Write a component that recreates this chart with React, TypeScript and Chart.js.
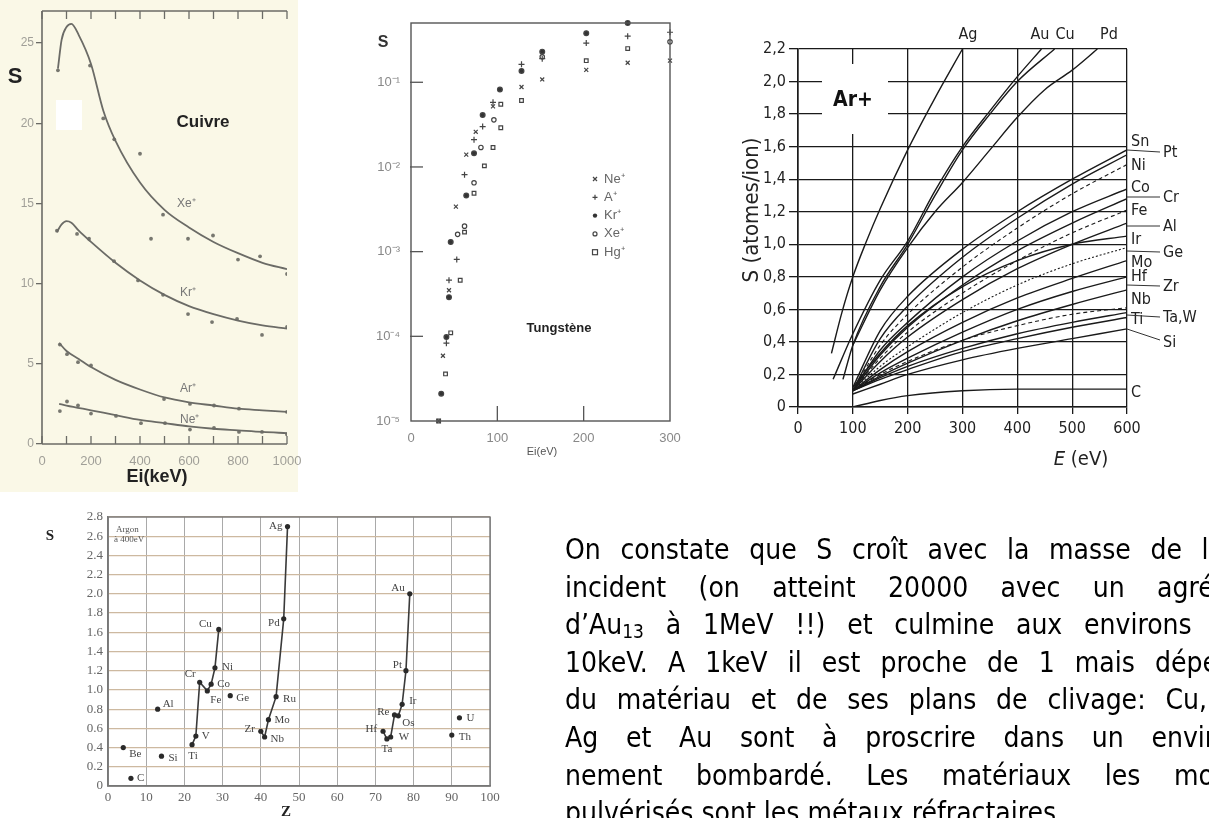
import React, { useEffect, useRef } from "react";
import { Chart, registerables } from "chart.js";

Chart.register(...registerables);

const W = 1209;
const H = 818;

const F_SANS = '"Liberation Sans", Arial, sans-serif';
const F_COND = '"DejaVu Sans Condensed", "DejaVu Sans", sans-serif';
const F_SERIF = '"Liberation Serif", "DejaVu Serif", serif';
const F_NARROW = '"Liberation Sans Narrow", "DejaVu Sans Condensed", sans-serif';

// ================= Chart 1 : Cuivre =================
const cuXTicks = [0, 100, 200, 300, 400, 500, 600, 700, 800, 900, 1000];
const cuXLabels = [0, 200, 400, 600, 800, 1000];
const cuYTicks = [0, 5, 10, 15, 20, 25];
const cuXeFitE = [65, 80, 100, 120, 150, 200, 250, 300, 400, 500, 600, 700, 800, 900, 1000];
const cuXeFitS = [23.4, 25.2, 26.0, 26.2, 25.5, 23.7, 20.8, 18.9, 16.3, 14.6, 13.5, 12.6, 11.9, 11.3, 10.9];
const cuXePtE = [65, 196, 250, 295, 400, 445, 494, 596, 698, 800, 890, 1000];
const cuXePtS = [23.3, 23.6, 20.3, 19.0, 18.1, 12.8, 14.3, 12.8, 13.0, 11.5, 11.7, 10.6];
const cuKrFitE = [60, 80, 100, 120, 150, 200, 300, 400, 500, 600, 700, 800, 900, 1000];
const cuKrFitS = [13.2, 13.7, 13.9, 13.8, 13.3, 12.6, 11.3, 10.2, 9.3, 8.6, 8.1, 7.7, 7.4, 7.2];
const cuKrPtE = [61, 143, 192, 294, 392, 494, 596, 694, 796, 898, 1000];
const cuKrPtS = [13.3, 13.1, 12.8, 11.4, 10.2, 9.3, 8.1, 7.6, 7.8, 6.8, 7.3];
const cuArFitE = [70, 100, 150, 200, 300, 400, 500, 600, 700, 800, 900, 1000];
const cuArFitS = [6.3, 5.8, 5.3, 4.8, 4.0, 3.4, 2.9, 2.6, 2.4, 2.2, 2.1, 2.0];
const cuArPtE = [73, 102, 147, 200, 498, 604, 702, 804, 1000];
const cuArPtS = [6.2, 5.6, 5.1, 4.9, 2.8, 2.5, 2.4, 2.2, 2.0];
const cuNeFitE = [70, 100, 200, 300, 400, 500, 600, 700, 800, 900, 1000];
const cuNeFitS = [2.5, 2.4, 2.1, 1.8, 1.5, 1.3, 1.1, 0.95, 0.85, 0.75, 0.68];
const cuNePtE = [73, 102, 147, 200, 302, 404, 502, 604, 702, 804, 898, 1000];
const cuNePtS = [2.05, 2.65, 2.4, 1.9, 1.75, 1.3, 1.3, 0.9, 1.0, 0.75, 0.75, 0.6];

// ================= Chart 2 : Tungstène =================
const wXTicks = [0, 100, 200, 300];
const wYTicks = [1e-5, 1e-4, 1e-3, 1e-2, 1e-1];
const wNeE = [32, 37, 44, 52, 64, 75, 95, 128, 152, 203, 251, 300];
const wNeS = [1.0e-5, 5.9e-5, 3.5e-4, 3.4e-3, 0.014, 0.026, 0.052, 0.088, 0.108, 0.14, 0.17, 0.18];
const wArE = [41, 44, 53, 62, 73, 83, 95, 128, 152, 203, 251, 300];
const wArS = [8.3e-5, 4.6e-4, 8.1e-4, 0.0081, 0.021, 0.03, 0.058, 0.163, 0.19, 0.29, 0.35, 0.39];
const wKrE = [35, 41, 44, 46, 64, 73, 83, 103, 128, 152, 203, 251, 300];
const wKrS = [2.1e-5, 9.8e-5, 2.9e-4, 1.3e-3, 0.0046, 0.0145, 0.041, 0.082, 0.136, 0.23, 0.38, 0.5, 0.62];
const wXeE = [54, 62, 73, 81, 96, 152, 300];
const wXeS = [1.6e-3, 0.002, 0.0065, 0.017, 0.036, 0.2, 0.3];
const wHgE = [32, 40, 46, 57, 62, 73, 85, 95, 104, 104, 128, 203, 251];
const wHgS = [1.0e-5, 3.6e-5, 1.1e-4, 4.6e-4, 0.0017, 0.0049, 0.0103, 0.017, 0.029, 0.055, 0.061, 0.18, 0.25];
const wLegend = ["Ne⁺", "A⁺", "Kr⁺", "Xe⁺", "Hg⁺"];

// ================= Chart 3 : Ar+ =================
const arXTicks = [0, 100, 200, 300, 400, 500, 600];
const arYTicks = [0, 0.2, 0.4, 0.6, 0.8, 1.0, 1.2, 1.4, 1.6, 1.8, 2.0, 2.2];
const arAgE = [61, 80, 100, 125, 150, 200, 250, 300];
const arAgS = [0.33, 0.58, 0.8, 1.02, 1.22, 1.58, 1.9, 2.2];
const arAuE = [64, 100, 150, 200, 250, 300, 350, 400, 444];
const arAuS = [0.17, 0.45, 0.78, 1.02, 1.33, 1.6, 1.82, 2.03, 2.2];
const arCuE = [82, 100, 150, 200, 250, 300, 350, 400, 468];
const arCuS = [0.17, 0.38, 0.74, 1.0, 1.3, 1.58, 1.8, 2.0, 2.2];
const arPdE = [100, 150, 200, 250, 300, 350, 400, 450, 500, 546];
const arPdS = [0.38, 0.72, 0.98, 1.2, 1.38, 1.58, 1.78, 1.95, 2.07, 2.2];
const arE = [100, 150, 200, 300, 400, 500, 600];
const arSn = [0.12, 0.47, 0.68, 0.97, 1.2, 1.4, 1.58];
const arPt = [0.1, 0.42, 0.62, 0.92, 1.16, 1.37, 1.55];
const arNi = [0.1, 0.38, 0.57, 0.86, 1.1, 1.31, 1.49];
const arCo = [0.1, 0.35, 0.52, 0.8, 1.02, 1.2, 1.34];
const arCr = [0.1, 0.32, 0.49, 0.75, 0.96, 1.13, 1.28];
const arFe = [0.1, 0.3, 0.46, 0.7, 0.9, 1.07, 1.21];
const arAl = [0.1, 0.28, 0.43, 0.66, 0.85, 1.0, 1.13];
const arIr = [0.12, 0.33, 0.5, 0.74, 0.9, 1.0, 1.05];
const arGe = [0.1, 0.25, 0.37, 0.58, 0.75, 0.88, 0.98];
const arMo = [0.1, 0.23, 0.34, 0.52, 0.67, 0.79, 0.9];
const arHf = [0.1, 0.21, 0.3, 0.46, 0.6, 0.71, 0.8];
const arZr = [0.1, 0.19, 0.27, 0.41, 0.53, 0.63, 0.72];
const arNb = [0.1, 0.2, 0.28, 0.41, 0.5, 0.57, 0.61];
const arTaW = [0.1, 0.18, 0.25, 0.36, 0.45, 0.52, 0.58];
const arTi = [0.1, 0.17, 0.23, 0.34, 0.42, 0.49, 0.55];
const arSi = [0.08, 0.14, 0.2, 0.29, 0.36, 0.42, 0.48];
const arC = [0.0, 0.04, 0.07, 0.1, 0.11, 0.11, 0.11];

// ================= Chart 4 : S vs Z =================
const zXTicks = [0, 10, 20, 30, 40, 50, 60, 70, 80, 90, 100];
const zYTicks = [0, 0.2, 0.4, 0.6, 0.8, 1.0, 1.2, 1.4, 1.6, 1.8, 2.0, 2.2, 2.4, 2.6, 2.8];
const z3dZ = [22, 23, 24, 26, 27, 28, 29];
const z3dS = [0.43, 0.52, 1.08, 0.99, 1.06, 1.23, 1.63];
const z3dN = ["Ti", "V", "Cr", "Fe", "Co", "Ni", "Cu"];
const z4dZ = [40, 41, 42, 44, 46, 47];
const z4dS = [0.57, 0.51, 0.69, 0.93, 1.74, 2.7];
const z4dN = ["Zr", "Nb", "Mo", "Ru", "Pd", "Ag"];
const z5dZ = [72, 73, 74, 75, 76, 77, 78, 79];
const z5dS = [0.57, 0.49, 0.51, 0.74, 0.73, 0.85, 1.2, 2.0];
const z5dN = ["Hf", "Ta", "W", "Re", "Os", "Ir", "Pt", "Au"];
const zIsoZ = [4, 6, 13, 14, 32, 90, 92];
const zIsoS = [0.4, 0.08, 0.8, 0.31, 0.94, 0.53, 0.71];
const zIsoN = ["Be", "C", "Al", "Si", "Ge", "Th", "U"];

// label placement (style): dx, dy, align
const zLabelStyle: Record<string, [number, number, CanvasTextAlign]> = {
  Be: [6, 7, "left"], C: [6, 0, "left"], Al: [5, -5, "left"], Si: [7, 2, "left"], Ge: [6, 2, "left"],
  Th: [7, 2, "left"], U: [7, 0, "left"], Ti: [1, 11, "center"], V: [6, 0, "left"], Cr: [-4, -8, "right"],
  Fe: [3, 9, "left"], Co: [6, 0, "left"], Ni: [7, -1, "left"], Cu: [-7, -5, "right"], Zr: [-6, -2, "right"],
  Nb: [6, 2, "left"], Mo: [6, 0, "left"], Ru: [7, 2, "left"], Pd: [-4, 4, "right"], Ag: [-5, 0, "right"],
  Hf: [-6, -2, "right"], Ta: [0, 10, "center"], W: [8, 0, "left"], Re: [-5, -3, "right"], Os: [4, 7, "left"],
  Ir: [7, -3, "left"], Pt: [-4, -6, "right"], Au: [-5, -6, "right"],
};

// ================= Paragraph =================
const paraLines = [
  "On constate que S croît avec la masse de l’ion",
  "incident (on atteint 20000 avec un agrégat",
  "d’Au|13| à 1MeV !!) et culmine aux environs de",
  "10keV. A 1keV il est proche de 1 mais dépend",
  "du matériau et de ses plans de clivage: Cu,",
  "Ag et Au sont à proscrire dans un environ-",
  "nement bombardé. Les matériaux les moins",
  "pulvérisés sont les métaux réfractaires.",
];
const paraWidths = [690, 690, 680, 685, 642, 690, 685, 690];

// ================= helpers =================
type Area = { l: number; t: number; r: number; b: number };
const pts = (xs: number[], ys: number[]) => xs.map((x, i) => ({ x, y: ys[i] }));
const setTicks = (vals: number[]) => (s: any) => {
  s.ticks = vals.map((v) => ({ value: v }));
};

function txt(ctx: CanvasRenderingContext2D, s: string, x: number, y: number, font: string, color = "#000", align: CanvasTextAlign = "left", base: CanvasTextBaseline = "middle") {
  ctx.save();
  ctx.font = font;
  ctx.fillStyle = color;
  ctx.textAlign = align;
  ctx.textBaseline = base;
  ctx.fillText(s, x, y);
  ctx.restore();
}

function seg(ctx: CanvasRenderingContext2D, x1: number, y1: number, x2: number, y2: number, color: string, width: number) {
  ctx.save();
  ctx.strokeStyle = color;
  ctx.lineWidth = width;
  ctx.beginPath();
  ctx.moveTo(x1, y1);
  ctx.lineTo(x2, y2);
  ctx.stroke();
  ctx.restore();
}

function baseOpts(a: Area) {
  return {
    responsive: false,
    maintainAspectRatio: false,
    animation: false,
    devicePixelRatio: 1,
    events: [],
    layout: { padding: { left: 0, top: a.t, right: W - a.r, bottom: 0 } },
    plugins: { legend: { display: false }, tooltip: { enabled: false }, title: { display: false } },
  };
}

// ================= Chart 1 config =================
const A1: Area = { l: 42, t: 11, r: 287, b: 444 };
function cfgCuivre(): any {
  const grey = "#6b6b66";
  const curve = (xs: number[], ys: number[]) => ({
    data: pts(xs, ys), borderColor: grey, borderWidth: 1.8, pointRadius: 0,
    cubicInterpolationMode: "monotone", fill: false,
  });
  const dots = (xs: number[], ys: number[]) => ({
    data: pts(xs, ys), showLine: false, pointRadius: 1.9,
    pointBackgroundColor: "#77776f", pointBorderWidth: 0,
  });
  return {
    type: "line",
    data: {
      datasets: [
        curve(cuXeFitE, cuXeFitS), dots(cuXePtE, cuXePtS),
        curve(cuKrFitE, cuKrFitS), dots(cuKrPtE, cuKrPtS),
        curve(cuArFitE, cuArFitS), dots(cuArPtE, cuArPtS),
        curve(cuNeFitE, cuNeFitS), dots(cuNePtE, cuNePtS),
      ],
    },
    options: {
      ...baseOpts(A1),
      scales: {
        x: {
          type: "linear", min: 0, max: 1000,
          afterFit: (s: any) => { s.height = H - A1.b; },
          afterBuildTicks: setTicks(cuXLabels),
          ticks: { color: "#a09f98", font: { size: 13, family: F_SANS }, padding: 2, maxRotation: 0, autoSkip: false, callback: (v: number) => String(v) },
          grid: { display: false }, border: { display: false },
        },
        y: {
          type: "linear", min: 0, max: 27,
          afterFit: (s: any) => { s.width = A1.l; },
          afterBuildTicks: setTicks(cuYTicks),
          ticks: { color: "#a09f98", font: { size: 12, family: F_SANS }, padding: 2 },
          grid: { drawOnChartArea: false, drawTicks: true, tickLength: 6, color: grey, lineWidth: 1.3 },
          border: { display: false },
        },
      },
    },
    plugins: [
      {
        id: "cuBg",
        beforeDraw(chart: any) {
          const ctx = chart.ctx;
          ctx.save();
          ctx.fillStyle = "#faf8e7";
          ctx.fillRect(0, 0, 298, 492);
          ctx.fillStyle = "#ffffff";
          ctx.fillRect(56, 100, 26, 30);
          ctx.restore();
        },
        afterDraw(chart: any) {
          const ctx = chart.ctx;
          const ca = chart.chartArea;
          const xs = chart.scales.x;
          seg(ctx, ca.left, ca.top, ca.left, ca.bottom, grey, 1.6);
          seg(ctx, ca.left, ca.bottom, ca.right, ca.bottom, grey, 1.6);
          seg(ctx, ca.left, ca.top, ca.right, ca.top, grey, 1.6);
          for (const v of cuXTicks) {
            const px = xs.getPixelForValue(v);
            seg(ctx, px, ca.bottom, px, ca.bottom - 8, grey, 1.3);
            seg(ctx, px, ca.top, px, ca.top + 8, grey, 1.3);
          }
          txt(ctx, "S", 15, 77, `bold 22px ${F_SANS}`, "#222", "center");
          txt(ctx, "Cuivre", 203, 122, `bold 17px ${F_SANS}`, "#222", "center");
          txt(ctx, "Ei(keV)", 157, 477, `bold 18px ${F_SANS}`, "#222", "center");
          const lf = `12px ${F_SANS}`;
          txt(ctx, "Xe⁺", 177, 204, lf, "#777");
          txt(ctx, "Kr⁺", 180, 293, lf, "#777");
          txt(ctx, "Ar⁺", 180, 389, lf, "#777");
          txt(ctx, "Ne⁺", 180, 420, lf, "#777");
        },
      },
    ],
  };
}

// ================= Chart 2 config =================
const A2: Area = { l: 411, t: 23, r: 670, b: 421 };
function cfgTungstene(): any {
  const g = "#555";
  const mk = (xs: number[], ys: number[], style: string, fillC: string, r: number) => ({
    data: pts(xs, ys), showLine: false, pointStyle: style, pointRadius: r,
    pointBackgroundColor: fillC, pointBorderColor: "#444", pointBorderWidth: 1.2, clip: false,
  });
  const sup: Record<string, string> = { "1": "¹", "2": "²", "3": "³", "4": "⁴", "5": "⁵" };
  return {
    type: "line",
    data: {
      datasets: [
        mk(wNeE, wNeS, "crossRot", "#444", 2.8),
        mk(wArE, wArS, "cross", "#444", 3),
        mk(wKrE, wKrS, "circle", "#333", 2.4),
        mk(wXeE, wXeS, "circle", "#ffffff", 2.2),
        mk(wHgE, wHgS, "rect", "#ffffff", 2.6),
      ],
    },
    options: {
      ...baseOpts(A2),
      scales: {
        x: {
          type: "linear", min: 0, max: 300,
          afterFit: (s: any) => { s.height = H - A2.b; },
          afterBuildTicks: setTicks(wXTicks),
          ticks: { color: "#888", font: { size: 13, family: F_SANS }, padding: 2, maxRotation: 0 },
          grid: { display: false }, border: { display: false },
        },
        y: {
          type: "logarithmic", min: 1e-5, max: 0.5012,
          afterFit: (s: any) => { s.width = A2.l; },
          afterBuildTicks: setTicks(wYTicks),
          ticks: {
            color: "#888", font: { size: 13, family: F_SANS }, padding: 3,
            callback: (v: number) => "10⁻" + sup[String(Math.round(-Math.log10(v)))],
          },
          grid: { display: false }, border: { display: false },
        },
      },
    },
    plugins: [
      {
        id: "wDeco",
        afterDraw(chart: any) {
          const ctx = chart.ctx;
          const ca = chart.chartArea;
          ctx.save();
          ctx.strokeStyle = g;
          ctx.lineWidth = 1.4;
          ctx.strokeRect(ca.left, ca.top, ca.right - ca.left, ca.bottom - ca.top);
          ctx.restore();
          const xs = chart.scales.x;
          const ys = chart.scales.y;
          for (const v of [100, 200]) {
            const px = xs.getPixelForValue(v);
            seg(ctx, px, ca.bottom, px, ca.bottom - 15, g, 1.3);
          }
          for (const v of wYTicks.slice(1)) {
            const py = ys.getPixelForValue(v);
            seg(ctx, ca.left - 1, py, ca.left + 12, py, g, 1.3);
          }
          txt(ctx, "S", 383, 43, `bold 16px ${F_SANS}`, "#333", "center");
          txt(ctx, "Tungstène", 559, 328, `bold 13px ${F_SANS}`, "#222", "center");
          txt(ctx, "Ei(eV)", 542, 452, `11px ${F_SANS}`, "#555", "center");
          const styles = ["crossRot", "cross", "circle", "circleOpen", "rect"];
          wLegend.forEach((lab, i) => {
            const y = 179 + i * 18.3;
            const x = 595;
            ctx.save();
            ctx.strokeStyle = "#444";
            ctx.fillStyle = "#333";
            ctx.lineWidth = 1.2;
            const st = styles[i];
            ctx.beginPath();
            if (st === "crossRot") {
              ctx.moveTo(x - 2, y - 2); ctx.lineTo(x + 2, y + 2); ctx.moveTo(x + 2, y - 2); ctx.lineTo(x - 2, y + 2); ctx.stroke();
            } else if (st === "cross") {
              ctx.moveTo(x - 2.5, y); ctx.lineTo(x + 2.5, y); ctx.moveTo(x, y - 2.5); ctx.lineTo(x, y + 2.5); ctx.stroke();
            } else if (st === "circle") {
              ctx.arc(x, y, 2.2, 0, Math.PI * 2); ctx.fill();
            } else if (st === "circleOpen") {
              ctx.arc(x, y, 2, 0, Math.PI * 2); ctx.stroke();
            } else {
              ctx.strokeRect(x - 2.5, y - 2.5, 5, 5);
            }
            ctx.restore();
            txt(ctx, lab, 604, y, `13px ${F_SANS}`, "#666");
          });
        },
      },
    ],
  };
}

// ================= Chart 3 config =================
const A3: Area = { l: 798, t: 49, r: 1127, b: 407 };
function cfgArgon(): any {
  const k = "#1a1a1a";
  const c = (xs: number[], ys: number[], dash?: number[]) => ({
    data: pts(xs, ys), borderColor: k, borderWidth: dash ? 1.1 : 1.4, pointRadius: 0,
    cubicInterpolationMode: "monotone", fill: false, borderDash: dash || [],
  });
  const dashed = [4, 3];
  const dotted = [2, 2];
  return {
    type: "line",
    data: {
      datasets: [
        c(arAgE, arAgS), c(arAuE, arAuS), c(arCuE, arCuS), c(arPdE, arPdS),
        c(arE, arSn), c(arE, arPt), c(arE, arNi, dashed), c(arE, arCo), c(arE, arCr),
        c(arE, arFe, dashed), c(arE, arAl), c(arE, arIr), c(arE, arGe, dotted), c(arE, arMo),
        c(arE, arHf), c(arE, arZr), c(arE, arNb, dashed), c(arE, arTaW), c(arE, arTi),
        c(arE, arSi), c(arE, arC),
      ],
    },
    options: {
      ...baseOpts(A3),
      scales: {
        x: {
          type: "linear", min: 0, max: 600,
          afterFit: (s: any) => { s.height = H - A3.b; },
          afterBuildTicks: setTicks(arXTicks),
          ticks: { color: "#222", font: { size: 16, family: F_COND }, padding: 5, maxRotation: 0 },
          grid: { color: k, lineWidth: 1.3, tickLength: 7, drawTicks: true },
          border: { display: true, color: k, width: 1.6 },
        },
        y: {
          type: "linear", min: 0, max: 2.2,
          afterFit: (s: any) => { s.width = A3.l; },
          afterBuildTicks: setTicks(arYTicks),
          ticks: {
            color: "#222", font: { size: 16, family: F_COND }, padding: 3,
            callback: (v: number) => (v === 0 ? "0" : v.toFixed(1).replace(".", ",")),
          },
          grid: { color: k, lineWidth: 1.3, tickLength: 9, drawTicks: true },
          border: { display: true, color: k, width: 1.6 },
        },
      },
    },
    plugins: [
      {
        id: "arBox",
        beforeDatasetsDraw(chart: any) {
          const ctx = chart.ctx;
          ctx.save();
          ctx.fillStyle = "#fff";
          ctx.fillRect(822, 64, 66, 70);
          ctx.restore();
          txt(ctx, "Ar+", 853, 101, `bold 21px ${F_COND}`, "#111", "center");
        },
        afterDraw(chart: any) {
          const ctx = chart.ctx;
          const lf = `16px ${F_COND}`;
          const col = "#222";
          txt(ctx, "Ag", 968, 35, lf, col, "center");
          txt(ctx, "Au", 1040, 35, lf, col, "center");
          txt(ctx, "Cu", 1065, 35, lf, col, "center");
          txt(ctx, "Pd", 1109, 35, lf, col, "center");
          const inner: [string, number][] = [
            ["Sn", 142], ["Ni", 166], ["Co", 188], ["Fe", 211], ["Ir", 240], ["Mo", 263],
            ["Hf", 277], ["Nb", 300], ["Ti", 320], ["C", 393],
          ];
          inner.forEach(([s, y]) => txt(ctx, s, 1131, y, lf, col));
          const outer: [string, number, number][] = [
            ["Pt", 153, 150], ["Cr", 198, 197], ["Al", 227, 226], ["Ge", 253, 251],
            ["Zr", 287, 285], ["Ta,W", 318, 315], ["Si", 343, 329],
          ];
          outer.forEach(([s, y, y0]) => {
            seg(ctx, 1127, y0, 1160, s === "Si" ? y - 3 : y - 1, "#333", 1);
            txt(ctx, s, 1163, y, lf, col);
          });
          ctx.save();
          ctx.translate(752, 210);
          ctx.rotate(-Math.PI / 2);
          txt(ctx, "S (atomes/ion)", 0, 0, `22px ${F_COND}`, "#222", "center");
          ctx.restore();
          ctx.save();
          ctx.font = `italic 20px ${F_COND}`;
          const wE = ctx.measureText("E").width;
          ctx.font = `20px ${F_COND}`;
          const wR = ctx.measureText(" (eV)").width;
          ctx.restore();
          const x0 = 1081 - (wE + wR) / 2;
          txt(ctx, "E", x0, 460, `italic 20px ${F_COND}`, "#222");
          txt(ctx, " (eV)", x0 + wE, 460, `20px ${F_COND}`, "#222");
        },
      },
    ],
  };
}

// ================= Chart 4 config =================
const A4: Area = { l: 108, t: 517, r: 490, b: 786 };
function cfgZ(): any {
  const lineDs = (xs: number[], ys: number[]) => ({
    data: pts(xs, ys), borderColor: "#3a3a3a", borderWidth: 1.6, pointRadius: 2.6,
    pointBackgroundColor: "#2a2a2a", pointBorderWidth: 0, tension: 0, fill: false, clip: false,
  });
  return {
    type: "line",
    data: {
      datasets: [
        lineDs(z3dZ, z3dS), lineDs(z4dZ, z4dS), lineDs(z5dZ, z5dS),
        { ...lineDs(zIsoZ, zIsoS), showLine: false },
      ],
    },
    options: {
      ...baseOpts(A4),
      scales: {
        x: {
          type: "linear", min: 0, max: 100,
          afterFit: (s: any) => { s.height = H - A4.b; },
          afterBuildTicks: setTicks(zXTicks),
          ticks: { color: "#666", font: { size: 13, family: F_SERIF }, padding: 4, maxRotation: 0 },
          grid: { color: "#a9a9a9", lineWidth: 1, drawTicks: false },
          border: { display: true, color: "#777", width: 1.5 },
        },
        y: {
          type: "linear", min: 0, max: 2.8,
          afterFit: (s: any) => { s.width = A4.l; },
          afterBuildTicks: setTicks(zYTicks),
          ticks: {
            color: "#666", font: { size: 13, family: F_SERIF }, padding: 5,
            callback: (v: number) => (v === 0 ? "0" : v.toFixed(1)),
          },
          grid: { color: "#cdb9a0", lineWidth: 1.2, drawTicks: false },
          border: { display: true, color: "#777", width: 1.5 },
        },
      },
    },
    plugins: [
      {
        id: "zDeco",
        afterDraw(chart: any) {
          const ctx = chart.ctx;
          const ca = chart.chartArea;
          ctx.save();
          ctx.strokeStyle = "#777";
          ctx.lineWidth = 1.4;
          ctx.strokeRect(ca.left, ca.top, ca.right - ca.left, ca.bottom - ca.top);
          ctx.restore();
          const xs = chart.scales.x;
          const ys = chart.scales.y;
          const groups: [number[], number[], string[]][] = [
            [z3dZ, z3dS, z3dN], [z4dZ, z4dS, z4dN], [z5dZ, z5dS, z5dN], [zIsoZ, zIsoS, zIsoN],
          ];
          const f = `11px ${F_SERIF}`;
          groups.forEach(([zz, ss, nn]) => {
            zz.forEach((z, i) => {
              const st = zLabelStyle[nn[i]] || [6, 0, "left"];
              txt(ctx, nn[i], xs.getPixelForValue(z) + st[0], ys.getPixelForValue(ss[i]) + st[1], f, "#444", st[2]);
            });
          });
          txt(ctx, "S", 50, 536, `bold 15px ${F_SERIF}`, "#222", "center");
          txt(ctx, "Argon", 116, 530, `9px ${F_SERIF}`, "#555");
          txt(ctx, "à 400eV", 114, 540, `9px ${F_SERIF}`, "#555");
          txt(ctx, "Z", 286, 812, `bold 15px ${F_SERIF}`, "#222", "center");
        },
      },
    ],
  };
}

function ParaLine({ text, top, width, last }: { text: string; top: number; width: number; last: boolean }) {
  const parts = text.split("|");
  return (
    <div
      style={{
        position: "absolute", left: 565, top, width, height: 38, overflow: "hidden",
        fontFamily: F_NARROW, fontSize: 28, lineHeight: "38px", color: "#000",
        textAlign: last ? "left" : "justify", textAlignLast: last ? "left" : "justify",
      } as React.CSSProperties}
    >
      {parts.length === 3 ? (
        <>
          {parts[0]}
          <span style={{ fontSize: 19, verticalAlign: "-4px" }}>{parts[1]}</span>
          {parts[2]}
        </>
      ) : (
        text
      )}
    </div>
  );
}

export default function App() {
  const c1 = useRef<HTMLCanvasElement>(null);
  const c2 = useRef<HTMLCanvasElement>(null);
  const c3 = useRef<HTMLCanvasElement>(null);
  const c4 = useRef<HTMLCanvasElement>(null);

  useEffect(() => {
    const charts = [
      new Chart(c1.current as HTMLCanvasElement, cfgCuivre()),
      new Chart(c2.current as HTMLCanvasElement, cfgTungstene()),
      new Chart(c3.current as HTMLCanvasElement, cfgArgon()),
      new Chart(c4.current as HTMLCanvasElement, cfgZ()),
    ];
    return () => charts.forEach((ch) => ch.destroy());
  }, []);

  const cs: React.CSSProperties = { position: "absolute", left: 0, top: 0, width: W, height: H };
  return (
    <div style={{ position: "fixed", left: 0, top: 0, width: W, height: H, overflow: "hidden", background: "#fff" }}>
      <canvas ref={c1} width={W} height={H} style={cs} />
      <canvas ref={c2} width={W} height={H} style={cs} />
      <canvas ref={c3} width={W} height={H} style={cs} />
      <canvas ref={c4} width={W} height={H} style={cs} />
      {paraLines.map((t, i) => (
        <ParaLine key={i} text={t} top={531 + i * 37.6} width={paraWidths[i]} last={i === paraLines.length - 1} />
      ))}
    </div>
  );
}
